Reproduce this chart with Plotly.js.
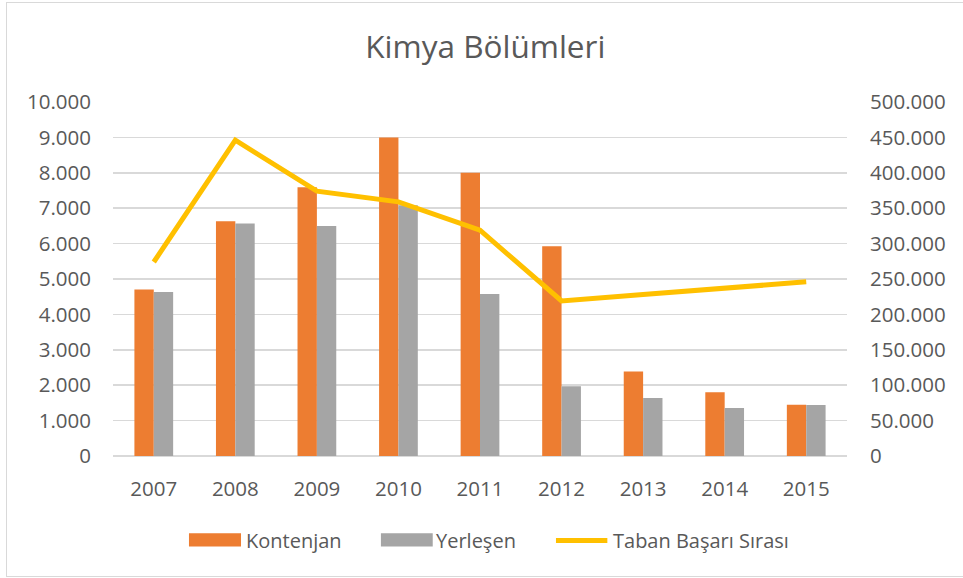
<!DOCTYPE html>
<html>
<head>
<meta charset="utf-8">
<script src="https://cdn.plot.ly/plotly-3.0.1.min.js"></script>
<style>
  html, body { margin: 0; padding: 0; background: #fff; }
  #chart { position: absolute; left: 0; top: 0; width: 963px; height: 578px; }
  #frame { position: absolute; left: 6px; top: 2px; width: 970px; height: 573px; border: 1px solid #d9d9d9; pointer-events: none; }
</style>
</head>
<body>
<div id="chart"></div>
<div id="frame"></div>
<script>
const chartTitle = "Kimya Bölümleri";
const years = ["2007", "2008", "2009", "2010", "2011", "2012", "2013", "2014", "2015"];
const seriesNames = ["Kontenjan", "Yerleşen", "Taban Başarı Sırası"];
const kontenjan = [4700, 6630, 7590, 9000, 8000, 5925, 2390, 1800, 1450];
const yerlesen = [4630, 6565, 6500, 7080, 4575, 1970, 1640, 1355, 1440];
const tabanSira = [274000, 446000, 374000, 359000, 319000, 219000, 228000, 237000, 246000];

const colors = ["#ED7D31", "#A5A5A5", "#FFC000"];
const font = "'Open Sans', 'Noto Sans', sans-serif";
const textColor = "#595959";

const traces = [
  { type: "bar", name: seriesNames[0], x: years, y: kontenjan, marker: { color: colors[0] }, showlegend: false, hoverinfo: "skip" },
  { type: "bar", name: seriesNames[1], x: years, y: yerlesen, marker: { color: colors[1] }, showlegend: false, hoverinfo: "skip" },
  { type: "scatter", mode: "lines", name: seriesNames[2], x: years, y: tabanSira, yaxis: "y2",
    line: { color: colors[2], width: 5 }, showlegend: false, hoverinfo: "skip" }
];

// custom legend (Excel-style wide swatches)
const legY = -0.239;
const shapes = [
  { type: "rect", xref: "paper", yref: "paper", x0: 0.1035, x1: 0.1744, y0: -0.218, y1: -0.256, fillcolor: colors[0], line: { width: 0 } },
  { type: "rect", xref: "paper", yref: "paper", x0: 0.365, x1: 0.4356, y0: -0.218, y1: -0.256, fillcolor: colors[1], line: { width: 0 } },
  { type: "line", xref: "paper", yref: "paper", x0: 0.6035, x1: 0.6735, y0: legY, y1: legY, line: { color: colors[2], width: 5 } }
];
const annotations = [
  { text: seriesNames[0], x: 0.178, xanchor: "left" },
  { text: seriesNames[1], x: 0.438, xanchor: "left" },
  { text: seriesNames[2], x: 0.679, xanchor: "left" }
].map(a => Object.assign({ xref: "paper", yref: "paper", y: legY, yanchor: "middle", showarrow: false,
  font: { family: font, size: 20, color: textColor } }, a));

const layout = {
  width: 963, height: 578,
  margin: { l: 113, r: 116, t: 102, b: 122, pad: 0 },
  paper_bgcolor: "rgba(0,0,0,0)", plot_bgcolor: "#fff",
  separators: ",.",
  font: { family: font, size: 20, color: textColor },
  title: { text: chartTitle, font: { family: font, size: 31.5, color: textColor },
    x: 0.504, xref: "container", xanchor: "center", y: 0.919, yref: "container", yanchor: "middle" },
  barmode: "group", bargap: 0.525, bargroupgap: 0,
  xaxis: { type: "category", showgrid: false, showline: false, ticks: "", ticklabelstandoff: 18,
    tickfont: { family: font, size: 20.5, color: textColor } },
  yaxis: { range: [0, 10000], dtick: 1000, tickformat: ",d", showgrid: true, gridcolor: "#d9d9d9", gridwidth: 1.5,
    zeroline: true, zerolinecolor: "#d9d9d9", zerolinewidth: 1.5, showline: false, ticks: "", ticklabelstandoff: 21,
    tickfont: { family: font, size: 20.5, color: textColor } },
  yaxis2: { range: [0, 500000], dtick: 50000, tickformat: ",d", overlaying: "y", side: "right", showgrid: false,
    zeroline: false, showline: false, ticks: "", ticklabelstandoff: 22,
    tickfont: { family: font, size: 20.5, color: textColor } },
  shapes: shapes,
  annotations: annotations
};

Plotly.newPlot("chart", traces, layout, { staticPlot: true, displayModeBar: false });
</script>
</body>
</html>
